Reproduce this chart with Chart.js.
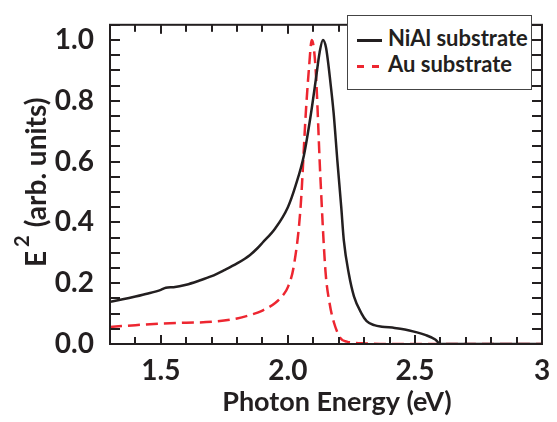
<!DOCTYPE html>
<html lang="en">
<head>
    <meta charset="UTF-8">
    <title>E2 vs Photon Energy</title>
    <script src="https://cdn.jsdelivr.net/npm/chart.js"></script>
    <style>
        body {
            margin: 0;
            background: #fff;
            font-family: Lato, "Open Sans", Arial, sans-serif;
        }
        .wrap {
            position: relative;
            width: 557px;
            height: 422px;
        }
        .legend {
            position: absolute;
            left: 347px;
            top: 15px;
            width: 185px;
            height: 75px;
            border: 1px solid #444;
            background: #fff;
            box-sizing: border-box;
        }
        .legend .row {
            position: absolute;
            left: 0;
            height: 26px;
            line-height: 26px;
            font-size: 22px;
            font-weight: 700;
            color: #231f20;
            white-space: nowrap;
        }
        .legend .row span.txt {
            position: absolute;
            left: 40px;
        }
        .legend .solid {
            position: absolute;
            left: 9px;
            top: 14px;
            width: 25px;
            height: 3px;
            background: #231f20;
        }
        .legend .dash {
            position: absolute;
            top: 14px;
            width: 7px;
            height: 3px;
            background: #ed2630;
        }
    </style>
</head>
<body>
    <div class="wrap">
        <canvas id="chart" width="557" height="422"></canvas>
        <div class="legend">
            <div class="row" style="top:9px"><div class="solid"></div><span class="txt">NiAl substrate</span></div>
            <div class="row" style="top:35px"><div class="dash" style="left:9px"></div><div class="dash" style="left:24px"></div><span class="txt">Au substrate</span></div>
        </div>
    </div>
    <script>
        // NiAl substrate curve (black, solid)
        const niAlX = [1.30, 1.35, 1.40, 1.45, 1.50, 1.52, 1.55, 1.60, 1.65, 1.70, 1.75, 1.80, 1.85, 1.88, 1.90,
                       1.95, 2.00, 2.03, 2.063, 2.09, 2.11, 2.125, 2.138, 2.15, 2.168, 2.18, 2.195, 2.21, 2.22,
                       2.24, 2.26, 2.29, 2.31, 2.34, 2.37, 2.42, 2.46, 2.50, 2.54, 2.58, 2.60, 2.70, 2.80, 2.90, 3.00];
        const niAlY = [0.139, 0.147, 0.156, 0.166, 0.178, 0.185, 0.187, 0.195, 0.208, 0.223, 0.243, 0.265, 0.292, 0.315, 0.333,
                       0.38, 0.45, 0.52, 0.62, 0.753, 0.87, 0.96, 1.0, 0.975, 0.856, 0.76, 0.60, 0.45, 0.342,
                       0.23, 0.157, 0.10, 0.075, 0.062, 0.057, 0.053, 0.048, 0.040, 0.030, 0.015, 0.0, 0, 0, 0, 0];

        // Au substrate curve (red, dashed)
        const auX = [1.30, 1.40, 1.50, 1.60, 1.70, 1.80, 1.85, 1.90, 1.95, 1.98, 2.00, 2.024, 2.05, 2.07, 2.083, 2.094,
                     2.109, 2.128, 2.148, 2.165, 2.18, 2.208, 2.232, 2.26, 2.30, 2.40, 2.60, 2.80, 3.00];
        const auY = [0.056, 0.062, 0.067, 0.070, 0.073, 0.084, 0.095, 0.11, 0.135, 0.16, 0.187, 0.26, 0.45, 0.753, 0.907, 1.0,
                     0.907, 0.547, 0.239, 0.13, 0.074, 0.018, 0.008, 0.004, 0.002, 0, 0, 0, 0];

        // tick labels
        const xTickValues = [1.5, 2.0, 2.5, 3.0];
        const xTickLabels = ['1.5', '2.0', '2.5', '3'];
        const yTickValues = [0, 0.2, 0.4, 0.6, 0.8, 1.0];
        const yTickLabels = ['0.0', '0.2', '0.4', '0.6', '0.8', '1.0'];

        const toPoints = (xs, ys) => xs.map((x, i) => ({ x: x, y: ys[i] }));
        const ink = '#231f20';
        const family = 'Lato, "Open Sans", Arial, sans-serif';
        const font = { family: family, weight: 'bold' };

        // box + inward ticks on all four sides, and the axis titles
        const frame = {
            id: 'frame',
            afterDraw(chart) {
                const { ctx, chartArea: a, scales: { x, y } } = chart;
                ctx.save();
                ctx.setLineDash([]);
                ctx.fillStyle = ink;
                for (let i = 0; i <= 17; i++) {
                    const len = (i % 5 === 2) ? 9 : 7;
                    const px = Math.round(x.getPixelForValue(1.3 + i * 0.1)) - 1;
                    ctx.fillRect(px, a.bottom - len, 2, len);
                    ctx.fillRect(px, a.top, 2, len);
                }
                for (let i = 0; i <= 21; i++) {
                    const py = Math.round(y.getPixelForValue(i * 0.05)) - 1;
                    ctx.fillRect(a.left, py, 10, 2);
                    ctx.fillRect(a.right - 10, py, 10, 2);
                }
                ctx.strokeStyle = ink;
                ctx.lineWidth = 2;
                ctx.strokeRect(a.left, a.top, a.right - a.left, a.bottom - a.top);

                // x axis title
                ctx.textAlign = 'center';
                ctx.textBaseline = 'alphabetic';
                ctx.font = 'bold 27px ' + family;
                ctx.fillText('Photon Energy (eV)', 337, 411);

                // y axis title: E, superscript 2, (arb. units)
                ctx.translate(46, 267);
                ctx.rotate(-Math.PI / 2);
                ctx.textAlign = 'left';
                ctx.font = 'bold 28px ' + family;
                ctx.fillText('E', 0, 0);
                let pos = ctx.measureText('E').width + 4;
                ctx.font = 'bold 20px ' + family;
                ctx.fillText('2', pos, -17);
                pos += ctx.measureText('2').width + 8;
                ctx.font = 'bold 28px ' + family;
                ctx.fillText('(arb. units)', pos, 0);
                ctx.restore();
            }
        };

        new Chart(document.getElementById('chart'), {
            type: 'line',
            data: {
                datasets: [{
                    label: 'NiAl substrate',
                    data: toPoints(niAlX, niAlY),
                    borderColor: ink,
                    borderWidth: 2.5,
                    pointRadius: 0,
                    cubicInterpolationMode: 'monotone'
                }, {
                    label: 'Au substrate',
                    data: toPoints(auX, auY),
                    borderColor: '#ed2630',
                    borderWidth: 2.5,
                    borderDash: [12, 6],
                    pointRadius: 0,
                    cubicInterpolationMode: 'monotone'
                }]
            },
            plugins: [frame],
            options: {
                responsive: false,
                animation: false,
                layout: { padding: { top: 4, right: 15, left: 0, bottom: 0 } },
                plugins: {
                    legend: { display: false },
                    tooltip: { enabled: false }
                },
                scales: {
                    x: {
                        type: 'linear',
                        min: 1.3,
                        max: 3.0,
                        afterBuildTicks: s => { s.ticks = xTickValues.map(v => ({ value: v })); },
                        afterFit: s => { s.height = 78; },
                        border: { display: false },
                        grid: { display: false },
                        ticks: {
                            callback: v => xTickLabels[xTickValues.indexOf(v)],
                            color: ink,
                            font: { ...font, size: 28 },
                            padding: 2,
                            maxRotation: 0
                        },
                        title: { display: false }
                    },
                    y: {
                        min: 0,
                        max: 1.05,
                        afterBuildTicks: s => { s.ticks = yTickValues.map(v => ({ value: v })); },
                        afterFit: s => { s.width = 110; },
                        border: { display: false },
                        grid: { display: false },
                        ticks: {
                            callback: v => yTickLabels[yTickValues.indexOf(v)],
                            color: ink,
                            font: { ...font, size: 28 },
                            padding: 8
                        },
                        title: { display: false }
                    }
                }
            }
        });
    </script>
</body>
</html>
